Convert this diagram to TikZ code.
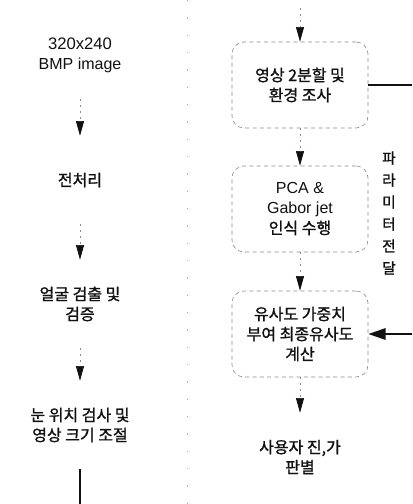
\documentclass[tikz,border=0pt]{standalone}
\usepackage{fontspec}
\setmainfont{Liberation Sans}
\newfontfamily\kr{Noto Sans CJK KR}[FakeBold=1.2]
\usetikzlibrary{arrows.meta}
\definecolor{FCLine}{HTML}{8C8C8C}
\definecolor{FCInk}{HTML}{111111}

\tikzset{
  stagel/.style={minimum width=105pt,minimum height=66pt,align=center,
    font=\fontsize{12}{15}\selectfont,text=FCInk},
  stager/.style={stagel,draw=FCLine,dash pattern=on 3pt off 2.5pt,
    line width=.45pt,rounded corners=9pt,minimum width=102pt,minimum height=64.5pt},
  flow/.style={FCLine,dash pattern=on 1.5pt off 3pt,line width=.5pt,
    -{Triangle[length=11pt,width=6pt,color=FCInk]}},
  feed/.style={FCInk,line width=1.6pt,-{Triangle[length=13pt,width=8.5pt]}},
  plain/.style={FCInk,line width=1.1pt}
}

\begin{document}
\begin{tikzpicture}[x=0.75pt,y=-0.75pt]
\path[use as bounding box] (0,0) rectangle (412,504);
\fill[white] (0,0) rectangle (412,504);
% column divider
\draw[FCLine!70,dash pattern=on 1pt off 12pt] (187,0) -- (187,504);
% left column
\node[stagel] (bmp) at (80,55) {\fontsize{12.5}{15}\selectfont 320x240\\BMP image};
\node[stagel] (pre) at (80,180) {\kr 전처리};
\node[stagel] (face) at (80,304) {\kr 얼굴 검출 및\\\kr 검증};
\node[stagel] (eye) at (80,425) {\kr 눈 위치 검사 및\\\kr 영상 크기 조절};
\coordinate (eyeout) at (80,504);
\draw[flow] (bmp) -- (pre);
\draw[flow] (pre) -- (face);
\draw[flow] (face) -- (eye);
\draw[plain] (eye) -- (eyeout);
% right column
\coordinate (splitin) at (300,8);
\node[stager] (split) at (300,85) {\kr 영상 2분할 및\\\kr 환경 조사};
\node[stager] (pca) at (300,209) {PCA \&\\Gabor jet\\\kr 인식 수행};
\node[stager] (sim) at (300,334) {\kr 유사도 가중치\\\kr 부여 최종유사도\\\kr 계산};
\node[stagel] (judge) at (300,457) {\kr 사용자 진,가\\\kr 판별};
\draw[flow] (splitin) -- (split);
\draw[flow] (split) -- (pca);
\draw[flow] (pca) -- (sim);
\draw[flow] (sim) -- (judge);
% parameter path
\node[font=\kr\fontsize{11}{16.5}\selectfont,align=center,text=FCInk] (param) at (389,213)
  {파\\라\\미\\터\\전\\달};
\coordinate (parout) at (412,85);
\coordinate (parin) at (412,334);
\draw[plain] (split.east) -- (parout);
\draw[feed] (parin) -- (sim.east);
\end{tikzpicture}
\end{document}
